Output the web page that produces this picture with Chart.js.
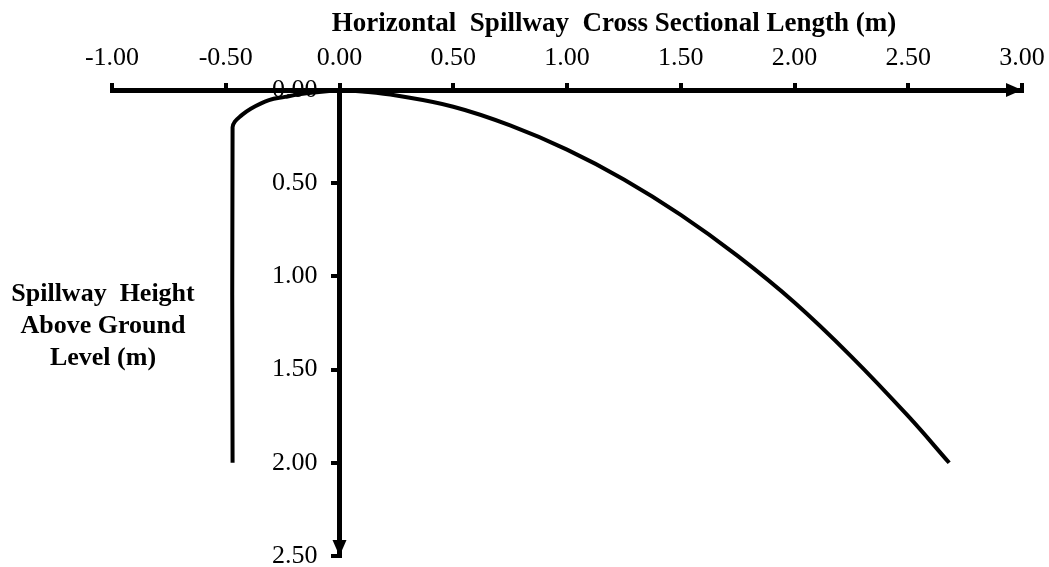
<!DOCTYPE html>
<html>
<head>
<meta charset="utf-8">
<script src="https://cdn.jsdelivr.net/npm/chart.js@4/dist/chart.umd.min.js"></script>
<style>
  body { margin: 0; background: #fff; }
  #wrap { width: 1049px; height: 567px; }
</style>
</head>
<body>
<div id="wrap"><canvas id="spillway" width="1049" height="567"></canvas></div>
<script>
// tick values and labels
const xTickValues = [-1, -0.5, 0, 0.5, 1, 1.5, 2, 2.5, 3];
const xTickLabels = ['-1.00', '-0.50', '0.00', '0.50', '1.00', '1.50', '2.00', '2.50', '3.00'];
const yTickValues = [0, 0.5, 1, 1.5, 2, 2.5];
const yTickLabels = ['0.00', '0.50', '1.00', '1.50', '2.00', '2.50'];

// upstream face (left of crest)
const upstreamX = [-0.47, -0.47, -0.46, -0.435, -0.39, -0.31, -0.24, -0.17, -0.09, 0];
const upstreamY = [2.00, 0.20, 0.17, 0.14, 0.10, 0.054, 0.037, 0.022, 0.011, 0];

// downstream face (right of crest)
const downstreamX = [0, 0.10, 0.25, 0.50, 0.75, 1.00, 1.25, 1.50, 1.75, 2.00, 2.25, 2.50, 2.68];
const downstreamY = [0, 0.008, 0.03, 0.09, 0.19, 0.32, 0.48, 0.67, 0.89, 1.14, 1.43, 1.75, 2.00];

const xTitle = 'Horizontal  Spillway  Cross Sectional Length (m)';
const yTitleLines = ['Spillway  Height', 'Above Ground', 'Level (m)'];

const serif = '"Liberation Serif", "Times New Roman", serif';
Chart.defaults.font.family = serif;
Chart.defaults.color = '#000';

function toPoints(xs, ys) {
  return xs.map((v, i) => ({ x: v, y: ys[i] }));
}

// keep the layout from adding room for half labels at the ends
function noEdgePadding(axis) {
  axis.paddingTop = 0;
  axis.paddingBottom = 0;
  axis.paddingLeft = 0;
  axis.paddingRight = 0;
}

// arrow heads on the axes + the two axis titles (placed like the original, off-centre)
const decorations = {
  id: 'decorations',
  afterDraw(chart) {
    const { ctx, scales: { x, y } } = chart;
    const x0 = x.getPixelForValue(0);
    const yTop = y.getPixelForValue(0);
    const xEnd = x.getPixelForValue(3);
    const yEnd = y.getPixelForValue(2.5);
    ctx.save();
    ctx.fillStyle = '#000';
    ctx.beginPath();
    ctx.moveTo(xEnd, yTop);
    ctx.lineTo(xEnd - 16, yTop - 7);
    ctx.lineTo(xEnd - 16, yTop + 7);
    ctx.closePath();
    ctx.fill();
    ctx.beginPath();
    ctx.moveTo(x0, yEnd);
    ctx.lineTo(x0 - 7, yEnd - 16);
    ctx.lineTo(x0 + 7, yEnd - 16);
    ctx.closePath();
    ctx.fill();

    ctx.textAlign = 'center';
    ctx.textBaseline = 'middle';
    ctx.font = 'bold 27px ' + serif;
    ctx.fillText(xTitle, 614, 24);
    ctx.font = 'bold 26px ' + serif;
    yTitleLines.forEach((t, i) => ctx.fillText(t, 103, 294 + i * 32));
    ctx.restore();
  }
};

new Chart(document.getElementById('spillway'), {
  type: 'scatter',
  data: {
    datasets: [{
      label: 'Upstream',
      data: toPoints(upstreamX, upstreamY),
      showLine: true,
      borderColor: '#000',
      borderWidth: 4,
      pointRadius: 0,
      tension: 0.4
    },
    {
      label: 'Downstream',
      data: toPoints(downstreamX, downstreamY),
      showLine: true,
      borderColor: '#000',
      borderWidth: 4,
      pointRadius: 0,
      tension: 0.4
    }]
  },
  options: {
    responsive: false,
    animation: false,
    layout: { padding: { left: 112, right: 27, top: 33, bottom: 11 } },
    plugins: { legend: { display: false }, tooltip: { enabled: false } },
    scales: {
      x: {
        type: 'linear',
        position: 'top',
        min: -1,
        max: 3,
        afterBuildTicks: axis => { axis.ticks = xTickValues.map(v => ({ value: v })); },
        afterFit: noEdgePadding,
        ticks: {
          callback: (v, i) => xTickLabels[i],
          font: { size: 26, lineHeight: 1 },
          padding: 12,
          maxRotation: 0,
          autoSkip: false
        },
        grid: { drawOnChartArea: false, tickLength: 7, lineWidth: 4, color: '#000' },
        border: { display: true, color: '#000', width: 5 }
      },
      y: {
        type: 'linear',
        position: { x: 0 },
        reverse: true,
        min: 0,
        max: 2.5,
        afterBuildTicks: axis => { axis.ticks = yTickValues.map(v => ({ value: v })); },
        afterFit: noEdgePadding,
        ticks: { display: false },
        grid: { drawOnChartArea: false, tickLength: 6, lineWidth: 4, color: '#000' },
        border: { display: true, color: '#000', width: 5 }
      },
      // label-only copy of the y scale, set a little left of the axis line
      yLab: {
        type: 'linear',
        position: { x: -0.097 },
        reverse: true,
        min: 0,
        max: 2.5,
        afterBuildTicks: axis => { axis.ticks = yTickValues.map(v => ({ value: v })); },
        afterFit: noEdgePadding,
        ticks: {
          callback: (v, i) => yTickLabels[i],
          font: { size: 26, lineHeight: 1 }
        },
        grid: { display: false },
        border: { display: false }
      }
    }
  },
  plugins: [decorations]
});
</script>
</body>
</html>
